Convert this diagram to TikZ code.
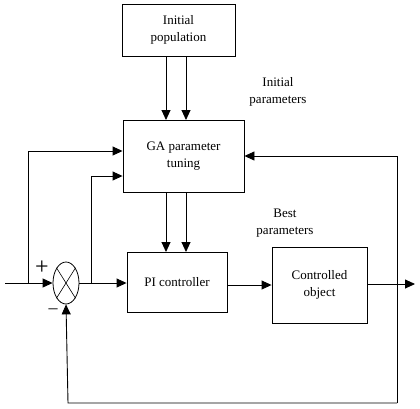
\documentclass[tikz,border=0pt]{standalone}
\usepackage{fontspec}
\setmainfont{Liberation Serif}
\usetikzlibrary{arrows.meta,shapes.geometric}
\begin{document}
\begin{tikzpicture}[x=1pt,y=-1pt,
  blk/.style={draw,line width=0.9pt,inner sep=0pt,align=center,font=\fontsize{13}{17}\selectfont},
  arr/.style={line width=0.9pt,-{Triangle[length=10pt,width=9pt]}},
  ln/.style={line width=0.9pt},
  lbl/.style={align=center,font=\fontsize{13}{17}\selectfont}]
\useasboundingbox (0,0) rectangle (420,408);
\node[blk,minimum width=113pt,minimum height=52pt] (ip) at (178.5,30) {Initial\\population};
\node[blk,minimum width=121pt,minimum height=72pt] (ga) at (183.5,156) {GA parameter\\tuning};
\node[blk,minimum width=100pt,minimum height=60pt] (pi) at (177,282) {PI controller};
\node[blk,minimum width=95pt,minimum height=76pt] (co) at (319.5,285) {Controlled\\object};
\node[draw,ellipse,line width=0.8pt,minimum width=26pt,minimum height=42pt,inner sep=0pt] (s) at (66,283) {};
\draw[line width=0.6pt] (s.north west) -- (s.south east) (s.north east) -- (s.south west);
\node[lbl] (t1) at (278,92) {Initial\\parameters};
\node[lbl] (t2) at (285,223) {Best\\parameters};
\node[font=\fontsize{24}{24}\selectfont,inner sep=0pt] (plus) at (42,268) {+};
\node[font=\fontsize{18}{18}\selectfont,inner sep=0pt] (minus) at (53,311) {\textendash};
% coordinates
\coordinate (in) at (5,283);
\coordinate (b1) at (28,283);
\coordinate (b2) at (91,284);
\coordinate (out) at (415,284);
\coordinate (c1) at (28,151);
\coordinate (c2) at (91,176);
\coordinate (f1) at (397,156);
\coordinate (f2) at (397,403);
\coordinate (f3) at (68,403);
% arrows from initial population to GA
\draw[arr] (166,56) -- (166,120);
\draw[arr] (186,56) -- (186,120);
% arrows from GA to PI
\draw[arr] (166,192) -- (166,252);
\draw[arr] (186,192) -- (186,252);
% input
\draw[arr] (in) -- (s.west);
\draw[arr] (b1) -- (c1) -- (ga.west |- c1);
\draw[arr] (b2) -- (c2) -- (ga.west |- c2);
\draw[arr] (s.east) -- (pi.west |- s.east);
\draw[arr] (pi.east |- 0,285) -- (co.west |- 0,285);
\draw[arr] (co.east |- out) -- (out);
\draw[arr] (f2) -- (f1) -- (ga.east |- f1);
\draw[arr] (f2) -- (f3) -- (s.south);
\end{tikzpicture}
\end{document}
